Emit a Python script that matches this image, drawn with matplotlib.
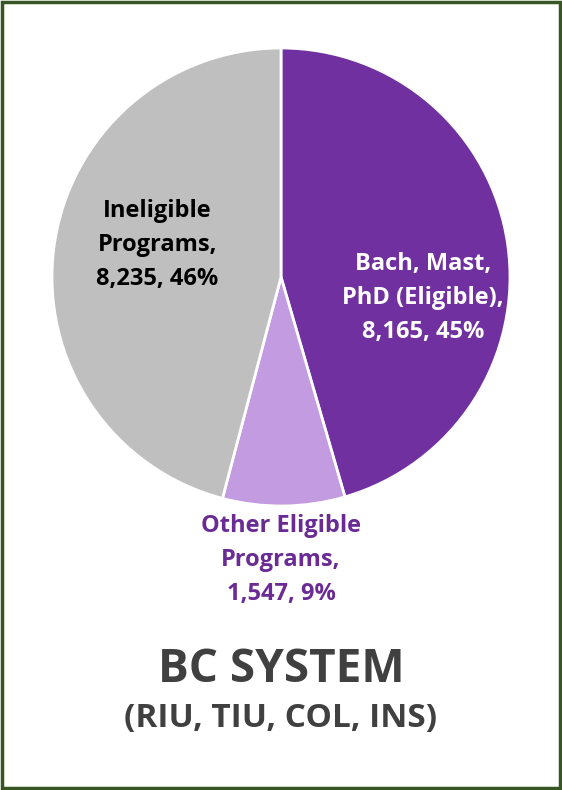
import matplotlib.pyplot as plt
from matplotlib.patches import Rectangle

labels = ["Bach, Mast,\nPhD (Eligible),", "Other Eligible\nPrograms,", "Ineligible\nPrograms,"]
values = [8165, 1547, 8235]
colors = ["#7030A0", "#C39BE0", "#BFBFBF"]
text_colors = ["white", "#6A2B94", "black"]
label_pos = [(0.62, -0.09), (0.0, -1.235), (-0.54, 0.14)]

plt.rcParams['font.family'] = ['Open Sans', 'DejaVu Sans']

fig = plt.figure(figsize=(5.62, 7.90), dpi=100)
ax = fig.add_axes([52 / 562, 284 / 790, 458 / 562, 458 / 790])

ax.pie(values, colors=colors, startangle=90, counterclock=False,
       wedgeprops=dict(edgecolor="white", linewidth=2))
ax.set_xlim(-1, 1)
ax.set_ylim(-1, 1)
ax.set_aspect("equal")

total = sum(values)
for lab, v, c, (x, y) in zip(labels, values, text_colors, label_pos):
    pct = round(100 * v / total)
    ax.text(x, y, f"{lab}\n{v:,}, {pct}%", ha="center", va="center",
            color=c, fontsize=17, fontweight="bold", linespacing=1.55,
            clip_on=False)

fig.text(0.5, 1 - 670 / 790, "BC SYSTEM", ha="center", va="center",
         fontsize=33, fontweight="bold", color="#404040")
fig.text(0.5, 1 - 718 / 790, "(RIU, TIU, COL, INS)", ha="center", va="center",
         fontsize=24, fontweight="bold", color="#404040")

fig.patches.append(Rectangle((0.004, 0.003), 0.992, 0.994, transform=fig.transFigure,
                             fill=False, edgecolor="#375623", linewidth=2.5))

fig.savefig("out.png", dpi=100)
